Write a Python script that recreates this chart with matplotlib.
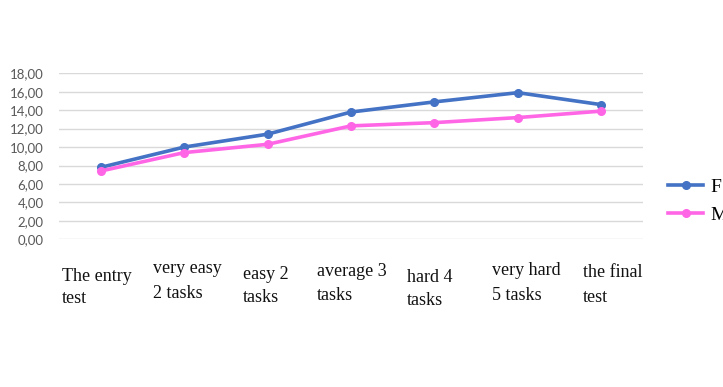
import matplotlib
matplotlib.use("Agg")
import matplotlib.pyplot as plt
from matplotlib.ticker import FuncFormatter

categories = ["The entry\ntest", "very easy\n2 tasks", "easy 2\ntasks", "average 3\ntasks",
              "hard 4\ntasks", "very hard\n5 tasks", "the final\ntest"]
series_F = [7.8, 10.0, 11.4, 13.8, 14.9, 15.9, 14.6]
series_M = [7.4, 9.4, 10.3, 12.3, 12.65, 13.2, 13.9]
series_names = ["F", "M"]
y_ticks = [0, 2, 4, 6, 8, 10, 12, 14, 16, 18]

W, H = 723, 387
fig = plt.figure(figsize=(W / 100, H / 100), dpi=100)
ax = fig.add_axes([59 / W, 1 - 239.3 / H, (643 - 59) / W, (239.3 - 73.3) / H])

x = list(range(len(categories)))
lF, = ax.plot(x, series_F, color="#4472C4", lw=2.6, marker="o", ms=5.5, label=series_names[0])
lM, = ax.plot(x, series_M, color="#FF66E6", lw=2.6, marker="o", ms=5.5, label=series_names[1])

ax.set_xlim(-0.5, len(categories) - 0.5)
ax.set_ylim(0, 18)
ax.set_yticks(y_ticks)
ax.yaxis.set_major_formatter(FuncFormatter(lambda v, p: f"{v:.2f}".replace(".", ",")))
ax.set_xticks([])
ax.grid(axis="y", color="#D9D9D9", lw=1)
ax.set_axisbelow(True)
for s in ax.spines.values():
    s.set_visible(False)
ax.tick_params(axis="y", length=0, pad=11, labelsize=9.5, labelcolor="#595959")
for t in ax.get_yticklabels():
    t.set_fontfamily("Lato")

# category labels (placed like the pasted text block in the reference)
lefts = [61.7, 152.7, 243.3, 316.7, 406.7, 491.7, 582.7]
base1 = [281, 273.3, 279, 275.7, 281.7, 275, 276.7]
base2 = [302.7, 298.3, 301.7, 300, 305, 300, 301.7]
for cat, lx, b1, b2 in zip(categories, lefts, base1, base2):
    l1, l2 = cat.split("\n")
    fig.text(lx / W, 1 - b1 / H, l1, family="Liberation Serif", fontsize=13,
             ha="left", va="baseline", color="#111111")
    fig.text(lx / W, 1 - b2 / H, l2, family="Liberation Serif", fontsize=13,
             ha="left", va="baseline", color="#111111")

fig.legend(handles=[lF, lM], loc="upper left", bbox_to_anchor=(668 / W, 1 - 178 / H),
           frameon=False, borderpad=0, borderaxespad=0, handlelength=1.8,
           handletextpad=0.4, labelspacing=0.55,
           prop={"family": "Liberation Serif", "size": 14})

fig.savefig("out.png", dpi=100)
